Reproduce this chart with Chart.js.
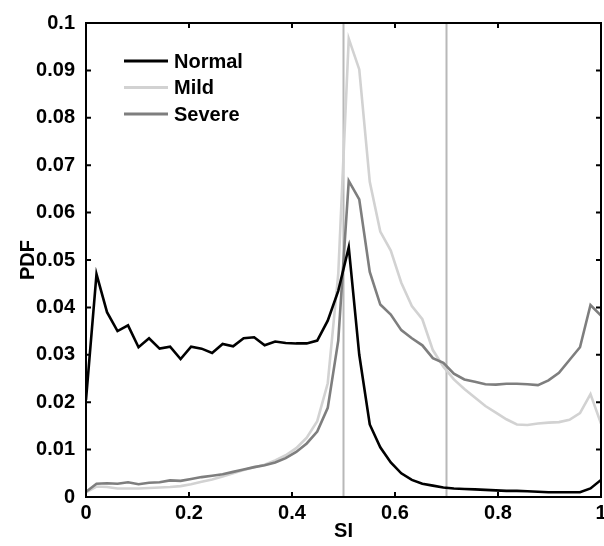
<!DOCTYPE html>
<html>
<head>
<meta charset="utf-8">
<script src="https://cdn.jsdelivr.net/npm/chart.js@4.4.1/dist/chart.umd.min.js"></script>
<style>
  html, body { margin: 0; padding: 0; background: #fff; overflow: hidden; }
  #wrap { width: 612px; height: 546px; }
</style>
</head>
<body>
<div id="wrap"><canvas id="c" width="612" height="546"></canvas></div>
<script>
// ---- data ----
const siValues = [0, 0.0204, 0.0408, 0.0612, 0.0816, 0.1020, 0.1224, 0.1429, 0.1633, 0.1837,
  0.2041, 0.2245, 0.2449, 0.2653, 0.2857, 0.3061, 0.3265, 0.3469, 0.3673, 0.3878,
  0.4082, 0.4286, 0.4490, 0.4694, 0.4898, 0.5102, 0.5306, 0.5510, 0.5714, 0.5918,
  0.6122, 0.6327, 0.6531, 0.6735, 0.6939, 0.7143, 0.7347, 0.7551, 0.7755, 0.7959,
  0.8163, 0.8367, 0.8571, 0.8776, 0.8980, 0.9184, 0.9388, 0.9592, 0.9796, 1.0];

const normalPdf = [0.0205, 0.0470, 0.0390, 0.0350, 0.0362, 0.0316, 0.0335, 0.0313, 0.0317, 0.0291,
  0.0317, 0.0313, 0.0304, 0.0323, 0.0318, 0.0335, 0.0337, 0.0320, 0.0328, 0.0325,
  0.0324, 0.0324, 0.0330, 0.0372, 0.0435, 0.0527, 0.0300, 0.0153, 0.0105, 0.0073,
  0.0050, 0.0036, 0.0028, 0.0024, 0.0020, 0.0018, 0.0017, 0.0016, 0.0015, 0.0014,
  0.0013, 0.0013, 0.0012, 0.0011, 0.0010, 0.0010, 0.0010, 0.0010, 0.0018, 0.0036];

const mildPdf = [0.0010, 0.0022, 0.0021, 0.0018, 0.0018, 0.0018, 0.0019, 0.0020, 0.0021, 0.0023,
  0.0027, 0.0032, 0.0037, 0.0043, 0.0050, 0.0057, 0.0063, 0.0068, 0.0077, 0.0088,
  0.0103, 0.0125, 0.0160, 0.0240, 0.0470, 0.0967, 0.0902, 0.0665, 0.0560, 0.0520,
  0.0452, 0.0403, 0.0375, 0.0310, 0.0275, 0.0248, 0.0228, 0.0210, 0.0192, 0.0178,
  0.0164, 0.0153, 0.0152, 0.0155, 0.0157, 0.0158, 0.0163, 0.0177, 0.0217, 0.0155];

const severePdf = [0.0011, 0.0028, 0.0029, 0.0028, 0.0031, 0.0027, 0.0030, 0.0031, 0.0035, 0.0034,
  0.0038, 0.0042, 0.0045, 0.0048, 0.0053, 0.0058, 0.0063, 0.0067, 0.0073, 0.0082,
  0.0095, 0.0113, 0.0138, 0.0188, 0.0330, 0.0667, 0.0628, 0.0475, 0.0406, 0.0385,
  0.0352, 0.0335, 0.0320, 0.0293, 0.0283, 0.0260, 0.0248, 0.0243, 0.0238, 0.0237,
  0.0239, 0.0239, 0.0238, 0.0236, 0.0246, 0.0262, 0.0289, 0.0316, 0.0405, 0.0383];

const seriesNames = ['Normal', 'Mild', 'Severe'];
const referenceLines = [0.5, 0.7];
const xTickLabels = ['0', '0.2', '0.4', '0.6', '0.8', '1'];
const yTickLabels = ['0', '0.01', '0.02', '0.03', '0.04', '0.05', '0.06', '0.07', '0.08', '0.09', '0.1'];
const xTitle = 'SI';
const yTitle = 'PDF';

// ---- styling ----
const FONT = "'Liberation Sans', Arial, sans-serif";
const seriesColors = ['#000000', '#d2d2d2', '#7e7e7e'];
Chart.defaults.font.family = FONT;
Chart.defaults.font.weight = 'bold';
Chart.defaults.font.size = 20;
Chart.defaults.color = '#000';

const toPts = arr => arr.map((v, i) => ({ x: siValues[i], y: v }));
const seriesData = [normalPdf, mildPdf, severePdf];

const datasets = seriesData.map((arr, k) => ({
  label: seriesNames[k],
  data: toPts(arr),
  borderColor: seriesColors[k],
  borderWidth: 2.6,
  pointRadius: 0,
  tension: 0,
  fill: false,
  order: k === 0 ? 0 : (k === 2 ? 1 : 2)
}));
referenceLines.forEach(xv => {
  datasets.push({
    label: '_ref',
    data: [{ x: xv, y: 0 }, { x: xv, y: 0.1 }],
    borderColor: '#b8b8b8',
    borderWidth: 2,
    pointRadius: 0,
    fill: false,
    order: 5
  });
});

const framePlugin = {
  id: 'frame',
  afterDraw(chart) {
    const { ctx, chartArea: a, scales } = chart;
    ctx.save();
    ctx.strokeStyle = '#000';
    ctx.lineWidth = 2;
    ctx.strokeRect(a.left, a.top, a.right - a.left, a.bottom - a.top);
    const tl = 5;
    ctx.lineWidth = 2;
    ctx.beginPath();
    scales.x.ticks.forEach(t => {
      const px = scales.x.getPixelForValue(t.value);
      ctx.moveTo(px, a.bottom); ctx.lineTo(px, a.bottom - tl);
      ctx.moveTo(px, a.top); ctx.lineTo(px, a.top + tl);
    });
    scales.y.ticks.forEach(t => {
      const py = scales.y.getPixelForValue(t.value);
      ctx.moveTo(a.left, py); ctx.lineTo(a.left + tl, py);
      ctx.moveTo(a.right, py); ctx.lineTo(a.right - tl, py);
    });
    ctx.stroke();

    // legend (inside the axes, top-left)
    ctx.font = 'bold 20px ' + FONT;
    ctx.textBaseline = 'middle';
    ctx.textAlign = 'left';
    const rows = [61, 87.5, 114];
    seriesNames.forEach((name, k) => {
      const ds = chart.data.datasets[k];
      ctx.strokeStyle = ds.borderColor;
      ctx.lineWidth = 3;
      ctx.beginPath();
      ctx.moveTo(124, rows[k]); ctx.lineTo(168, rows[k]);
      ctx.stroke();
      ctx.fillStyle = '#000';
      ctx.fillText(ds.label, 174, rows[k] + 1);
    });
    ctx.restore();
  }
};

new Chart(document.getElementById('c'), {
  type: 'line',
  data: { datasets },
  options: {
    responsive: false,
    animation: false,
    devicePixelRatio: 1,
    layout: { padding: { left: 0, top: 16, right: 11, bottom: 0 } },
    plugins: { legend: { display: false }, tooltip: { enabled: false } },
    scales: {
      x: {
        type: 'linear', min: 0, max: 1,
        afterFit: s => { s.height = 49; },
        grid: { display: false, drawTicks: false },
        border: { display: false },
        ticks: {
          stepSize: 0.2, padding: 4, maxRotation: 0,
          callback: (v, i) => xTickLabels[i]
        },
        title: { display: true, text: xTitle, padding: { top: 0, bottom: 3 }, font: { size: 20, weight: 'bold' } }
      },
      y: {
        type: 'linear', min: 0, max: 0.1,
        afterFit: s => { s.width = 86; },
        grid: { display: false, drawTicks: false },
        border: { display: false },
        ticks: {
          stepSize: 0.01, padding: 11,
          callback: (v, i) => yTickLabels[i]
        },
        title: { display: true, text: yTitle, padding: { top: 16, bottom: 0 }, font: { size: 20, weight: 'bold' } }
      }
    }
  },
  plugins: [framePlugin]
});
</script>
</body>
</html>
